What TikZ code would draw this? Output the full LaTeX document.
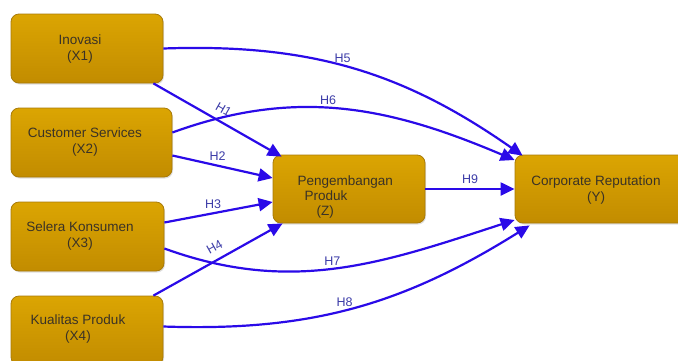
\documentclass[tikz,border=0pt]{standalone}
\usepackage{fontspec}
\setmainfont{Liberation Sans}
\usetikzlibrary{arrows.meta,shadows}
\definecolor{goldtop}{HTML}{DBA502}
\definecolor{goldbot}{HTML}{C28C00}
\definecolor{goldedge}{HTML}{A87A08}
\definecolor{arrowblue}{HTML}{2A0AE8}
\definecolor{labblue}{HTML}{3C3CA8}
\definecolor{boxtext}{HTML}{3A3226}
\tikzset{
  x=1pt,y=-1pt,
  varbox/.style={draw=goldedge,line width=0.8pt,rounded corners=8pt,top color=goldtop,bottom color=goldbot,
    drop shadow={shadow xshift=1pt,shadow yshift=-1.5pt,opacity=0.25},
    font=\fontsize{13.5}{16}\selectfont,text=boxtext,align=center,inner sep=0pt},
  boxtxt/.style={font=\fontsize{13.5}{16}\selectfont,text=boxtext,align=center},
  link/.style={draw=arrowblue,line width=2.2pt,-{Triangle[length=14pt,width=13pt]}},
  hlab/.style={font=\fontsize{12.5}{13}\selectfont,text=labblue,inner sep=1pt}
}
\begin{document}
\begin{tikzpicture}
\clip (0,0) rectangle (678,360);
\useasboundingbox (0,0) rectangle (678,360);
\fill[white] (0,0) rectangle (678,360);
\node[varbox,minimum width=152pt,minimum height=69pt] (x1) at (87,48.5) {};
\node[boxtxt] (x1t) at (80,49) {Inovasi\\(X1)};
\node[varbox,minimum width=161pt,minimum height=69pt] (x2) at (91.5,142.5) {};
\node[boxtxt] (x2t) at (85,142) {Customer Services\\(X2)};
\node[varbox,minimum width=153pt,minimum height=69pt] (x3) at (87.5,236.5) {};
\node[boxtxt] (x3t) at (80,236) {Selera Konsumen\\(X3)};
\node[varbox,minimum width=152pt,minimum height=69pt] (x4) at (87,330.5) {};
\node[boxtxt] (x4t) at (78,329) {Kualitas Produk\\(X4)};
\node[varbox,minimum width=152pt,minimum height=68pt] (z) at (349,189) {};
\node[boxtxt,align=left,anchor=west,font=\fontsize{13.5}{15}\selectfont] (zt) at (294,197) {Pengembangan\\\hspace*{7pt}Produk\\\hspace*{19pt}(Z)};
\node[varbox,minimum width=175pt,minimum height=68pt] (y) at (602.5,189) {};
\node[boxtxt] (yt) at (596,190) {Corporate Reputation\\(Y)};
% connectors
\draw[link] (x1.east) to[out=2,in=145] node[hlab,pos=0.47,above=1pt] (h5) {H5} ([xshift=8pt,yshift=-1pt]y.north west);
\draw[link] ([xshift=-10pt]x1.south east) -- node[hlab,pos=0.5,above=6pt,sloped] (h1) {H1} ([xshift=9pt,yshift=-2pt]z.north west);
\draw[link] ([yshift=10pt]x2.east) to[out=20,in=157] node[hlab,pos=0.45,above=1pt] (h6) {H6} ([yshift=29pt]y.west);
\draw[link] ([yshift=-13pt]x2.east) -- node[hlab,pos=0.45,above=3pt] (h2) {H2} ([yshift=11pt]z.west);
\draw[link] ([yshift=14pt]x3.east) -- node[hlab,pos=0.45,above=3pt] (h3) {H3} ([yshift=-13pt]z.west);
\draw[link] ([xshift=-10pt]x4.north east) -- node[hlab,pos=0.52,above=6pt,sloped] (h4) {H4} ([xshift=10pt]z.south west);
\draw[link] ([yshift=-12pt]x3.east) to[out=-20,in=198] node[hlab,pos=0.48,above=1pt] (h7) {H7} ([yshift=-31pt]y.west);
\draw[link] ([yshift=4pt]x4.east) to[out=-2,in=212] node[hlab,pos=0.47,above=1pt] (h8) {H8} ([xshift=15pt,yshift=-2pt]y.south west);
\draw[link] (z.east) -- node[hlab,above=3pt] (h9) {H9} (y.west);
\end{tikzpicture}
\end{document}
